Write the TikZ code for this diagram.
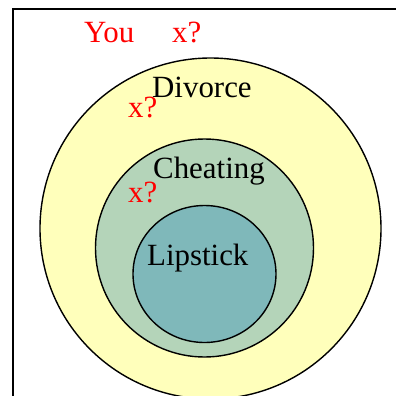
\documentclass[tikz,border=0pt]{standalone}
\usepackage{fontspec}
\setmainfont{Liberation Serif}
\usetikzlibrary{shapes.geometric}
\definecolor{outerfill}{RGB}{255,255,187}
\definecolor{midfill}{RGB}{180,212,185}
\definecolor{innerfill}{RGB}{127,184,186}
\tikzset{
  ring/.style={draw=black, line width=1.4bp},
  lbl/.style={anchor=base west, inner sep=0pt, font=\fontsize{31}{31}\selectfont},
  redlbl/.style={lbl, text=red}
}
\begin{document}
\begin{tikzpicture}[x=1bp, y=-1bp]
\useasboundingbox (0,0) rectangle (396,396);
\begin{scope}
\clip (0,0) rectangle (396,396);
\coordinate (tl) at (13,9);
\coordinate (tr) at (400,9);
\coordinate (bl) at (13,400);
\draw[line width=1.4bp] (tr) -- (tl) -- (bl);
\node[ring, fill=outerfill, circle, minimum size=341bp, inner sep=0pt] (divorce) at (210.5,228.5) {};
\node[ring, fill=midfill, circle, minimum size=218bp, inner sep=0pt] (cheating) at (204.5,248) {};
\node[ring, fill=innerfill, ellipse, minimum width=143bp, minimum height=137bp, inner sep=0pt] (lipstick) at (204.5,274) {};
\end{scope}
\node[redlbl] (you) at (84,42) {You};
\node[redlbl] (x1) at (172,42) {x?};
\node[lbl] (tdiv) at (152,97) {Divorce};
\node[redlbl] (x2) at (128,117) {x?};
\node[lbl] (tcheat) at (153,178) {Cheating};
\node[redlbl] (x3) at (128,202) {x?};
\node[lbl] (tlip) at (147,265) {Lipstick};
\end{tikzpicture}
\end{document}
